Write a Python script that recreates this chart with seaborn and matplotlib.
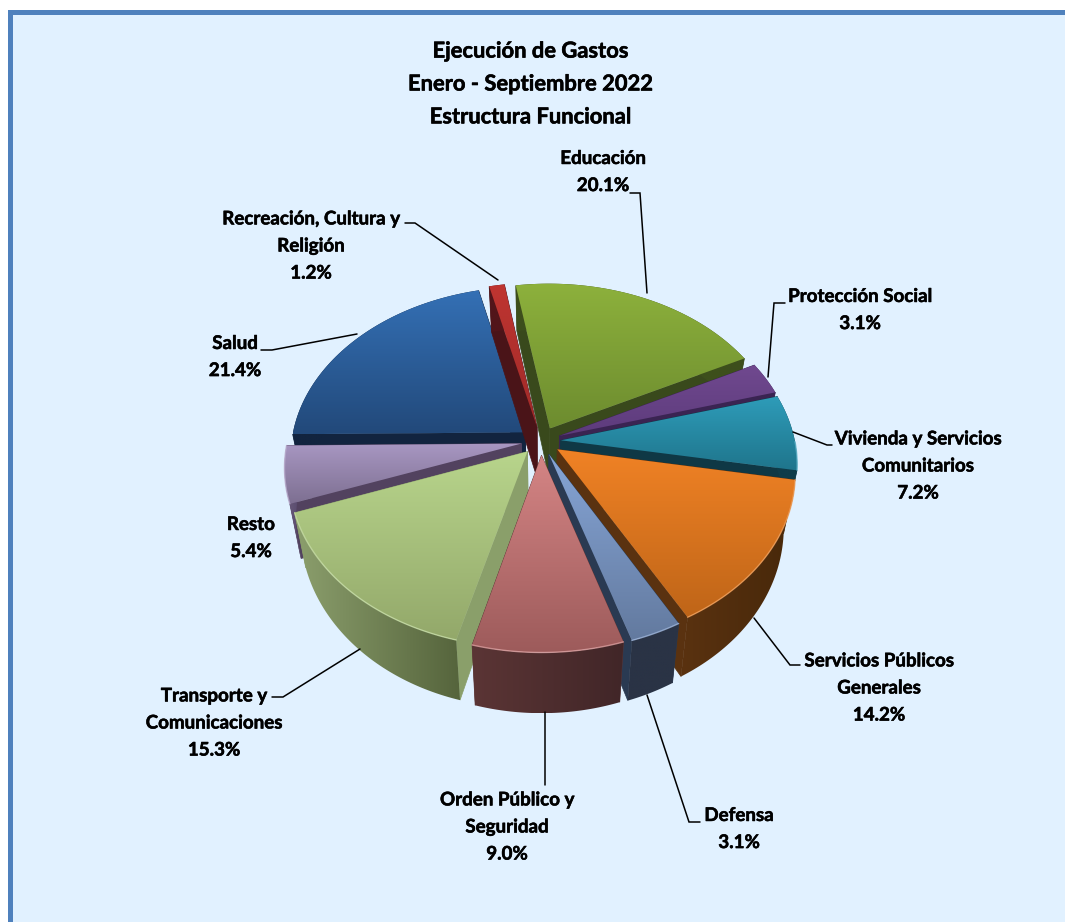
import numpy as np
import matplotlib
matplotlib.use('Agg')
import matplotlib.pyplot as plt
import matplotlib.patheffects as pe
from matplotlib.patches import Polygon, Rectangle
import seaborn as sns

# data
categories = ['Educación', 'Protección Social', 'Vivienda y Servicios\nComunitarios',
              'Servicios Públicos\nGenerales', 'Defensa', 'Orden Público y\nSeguridad',
              'Transporte y\nComunicaciones', 'Resto', 'Salud',
              'Recreación, Cultura y\nReligión']
values = [20.1, 3.1, 7.2, 14.2, 3.1, 9.0, 15.3, 5.4, 21.4, 1.2]
title_lines = ['Ejecución de Gastos', 'Enero - Septiembre 2022', 'Estructura Funcional']

# colours per slice: top surface (upper, lower), outer rim (left, right), radial face
top_hi = ['#8db13c', '#70498f', '#2e9cb9', '#f08225', '#86a5d6', '#d58585', '#b8d58c', '#a897c2', '#3470b5', '#bf3531']
top_lo = ['#6d8c2f', '#5d3b7c', '#1f758c', '#bf6518', '#637a9f', '#9d5b5b', '#93a86a', '#7d6f91', '#22497a', '#a02a28']
rim_l = ['#3d4f1c', '#3a2452', '#0f3c4a', '#5a3210', '#2a3345', '#5b3535', '#8c9f6d', '#6f6080', '#12243f', '#52151a']
rim_r = ['#3d4f1c', '#3a2452', '#0f3c4a', '#47280a', '#2a3345', '#412628', '#55643c', '#55476a', '#12243f', '#52151a']
face = ['#39491c', '#3a2452', '#0f3845', '#5a3210', '#2a3a52', '#5b3535', '#8a9f6a', '#52425f', '#12243f', '#4a1418']

# painter order, back to front
draw_order = [8, 0, 9, 1, 2, 7, 3, 6, 4, 5]

label_pos = [(603, 172), (860, 310), (918, 466), (879, 688), (739, 829),
             (507, 827), (214, 723), (251, 538), (235, 357), (311, 246)]
leaders = [[(630, 193), (640, 193), (647, 293)],
           [(785, 303), (774, 303), (768, 377)],
           [(793, 432), (827, 445), (832, 445)],
           [(754, 618), (790, 665), (800, 665)],
           [(647, 695), (689, 822), (700, 822)],
           [(545, 712), (545, 785)],
           [(360, 649), (283, 697), (272, 697)],
           [(357, 334), (272, 350), (261, 350)],
           [(498, 280), (415, 223), (405, 223)]]

sns.set_theme(style='white')
plt.rcParams['font.family'] = ['Lato', 'DejaVu Sans']

fig = plt.figure(figsize=(10.65, 9.22), dpi=100, facecolor='white')
ax = fig.add_axes([0, 0, 1, 1])

# let pie work out the slice angles and explosion, then redraw them in perspective
wedges, _ = ax.pie(values, startangle=99.3, counterclock=False, explode=[0.085] * len(values))
geom = [(w.theta1, w.theta2, w.center) for w in wedges]
for w in wedges:
    w.remove()

ax.set_aspect('auto')
ax.axis('off')

ax.add_patch(Rectangle((9.5, 12.5), 1100, 1000, facecolor='#e1f1ff', edgecolor='#4f81bd', lw=3.6, zorder=0))

CX, CY, RX, RY, K, DEPTH, SHRINK = 541, 441, 234, 167, 0.132, 52, 0.955


def warp(x, y):
    w = 1 + K * y
    return CX + RX * x / w, CY - RY * y / w, DEPTH / w


def lower(px):
    # bottom of the pie sits a bit further from the viewer
    return CX + (px - CX) * SHRINK


def gradient_fill(pts, colours, horizontal, z):
    pts = np.asarray(pts)
    poly = Polygon(pts, facecolor='none', edgecolor='none', zorder=z)
    ax.add_patch(poly)
    cmap = sns.blend_palette(colours, 64, as_cmap=True)
    ramp = np.linspace(0, 1, 256)
    ramp = ramp[None, :] if horizontal else ramp[:, None]
    im = ax.imshow(ramp, cmap=cmap, aspect='auto', origin='upper', interpolation='bilinear', zorder=z,
                   extent=[pts[:, 0].min(), pts[:, 0].max(), pts[:, 1].max(), pts[:, 1].min()])
    im.set_clip_path(poly)


z = 2
for i in draw_order:
    t1, t2, c = geom[i]
    t = np.radians(np.linspace(t1, t2, 60))
    x, y, d = warp(c[0] + np.cos(t), c[1] + np.sin(t))
    ax_, ay_, ad_ = warp(np.array([c[0]]), np.array([c[1]]))

    # radial faces
    for j in (0, -1):
        quad = [(ax_[0], ay_[0]), (x[j], y[j]), (lower(x[j]), y[j] + d[j]),
                (lower(ax_[0]), ay_[0] + ad_[0])]
        ax.add_patch(Polygon(quad, facecolor=face[i], edgecolor=face[i], lw=0.5, zorder=z))
        z += 1

    # outer rim
    rim = np.r_[np.c_[x, y], np.c_[lower(x), y + d][::-1]]
    gradient_fill(rim, [rim_l[i], rim_r[i]], True, z)
    z += 1

    # top surface
    gradient_fill(np.c_[np.r_[ax_, x], np.r_[ay_, y]], [top_hi[i], top_lo[i]], False, z)
    z += 1

    # thin light edge along the front of the rim
    front = y > CY
    ax.plot(np.where(front, x, np.nan), np.where(front, y, np.nan),
            color=sns.light_palette(top_hi[i], 5, reverse=True)[1], lw=1, alpha=0.8, zorder=z)
    z += 1

ax.set_xlim(0, 1065)
ax.set_ylim(922, 0)

for path in leaders:
    ax.plot(*zip(*path), color='black', lw=1.1, solid_joinstyle='miter', zorder=z)

bold = [pe.withStroke(linewidth=0.4, foreground='black')]
for name, v, (lx, ly) in zip(categories, values, label_pos):
    ax.text(lx, ly, f'{name}\n{v:.1f}%', fontsize=13.5, ha='center', va='center', fontweight='bold',
            color='black', linespacing=1.72, zorder=z + 1, path_effects=bold)
ax.text(531, 84, '\n'.join(title_lines), fontsize=15.8, ha='center', va='center', fontweight='bold',
        color='black', linespacing=1.7, zorder=z + 1, path_effects=bold)

fig.savefig('out.png', dpi=100)
